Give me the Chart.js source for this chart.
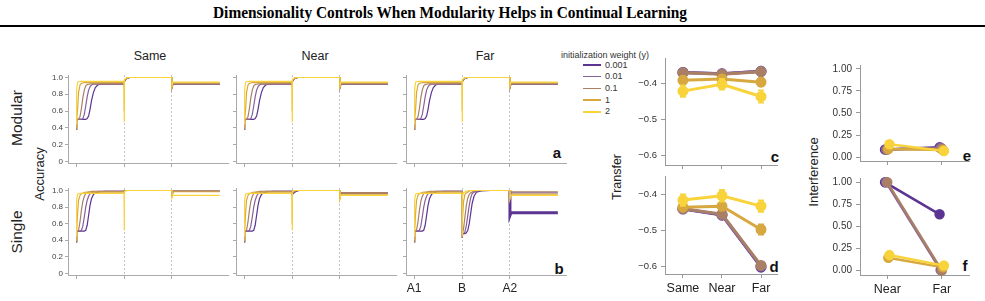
<!DOCTYPE html>
<html>
<head>
<meta charset="utf-8">
<script src="https://cdn.jsdelivr.net/npm/chart.js@4.4.1/dist/chart.umd.min.js"></script>
<style>
  body { margin: 0; width: 985px; height: 301px; background: #fff; position: relative; overflow: hidden; font-family: "Liberation Sans", Arial, sans-serif; }
  canvas { position: absolute; }
  .txt { position: absolute; white-space: nowrap; color: #222; line-height: 1; }
  .ctr { transform: translate(-50%, -50%); }
  .rot { transform: translate(-50%, -50%) rotate(-90deg); }
  #title { left: 450px; top: 5px; font-family: "Liberation Serif", "Times New Roman", serif; font-weight: bold; font-size: 16px; color: #000; transform: translateX(-50%); }
  #rule { position: absolute; left: 0; top: 25px; width: 985px; height: 2px; background: #000; }
  .letter { font-weight: bold; font-size: 15px; color: #111; }
  .leg { font-size: 9px; color: #333; }
  .legline { position: absolute; height: 1.5px; width: 18px; }
</style>
</head>
<body>
<div class="txt" id="title">Dimensionality Controls When Modularity Helps in Continual Learning</div>
<div id="rule"></div>

<div class="txt ctr" style="left:150px;top:56px;font-size:12.5px">Same</div>
<div class="txt ctr" style="left:315px;top:56px;font-size:12.5px">Near</div>
<div class="txt ctr" style="left:485px;top:56px;font-size:12.5px">Far</div>
<div class="txt rot" style="left:17px;top:118px;font-size:15.5px">Modular</div>
<div class="txt rot" style="left:17px;top:232px;font-size:15.5px">Single</div>
<div class="txt rot" style="left:39px;top:174px;font-size:13px">Accuracy</div>
<div class="txt rot" style="left:617px;top:177px;font-size:12.5px">Transfer</div>
<div class="txt rot" style="left:813px;top:172px;font-size:13px">Interference</div>

<div class="txt ctr letter" style="left:557px;top:152px">a</div>
<div class="txt ctr letter" style="left:559px;top:268px">b</div>
<div class="txt ctr letter" style="left:775px;top:156px">c</div>
<div class="txt ctr letter" style="left:774px;top:266px">d</div>
<div class="txt ctr letter" style="left:967px;top:155px">e</div>
<div class="txt ctr letter" style="left:965px;top:265px">f</div>

<div id="legend"></div>

<script>
// init weights (y) and their colours
const initWeights = ['0.001', '0.01', '0.1', '1', '2'];
const seriesColors = ['#5c3593', '#86609b', '#a97f66', '#d7a83f', '#f9d33b'];

// training progress (phase A1 -> B -> A2)
const phaseNames = ['A1', 'B', 'A2'];
const tasks = ['Same', 'Near', 'Far'];
const a1Steps = [0, 0.01, 0.03, 0.05, 0.08, 0.11, 0.14, 0.17, 0.20, 0.23, 0.26, 0.29, 0.32, 0.36, 0.40, 0.45, 0.50, 0.60, 0.80, 1.00];
const bSteps = [1.00, 1.01, 1.03, 1.06, 1.09, 1.12, 1.15, 1.18, 1.21, 1.25, 1.30, 1.40, 1.60, 2.00];
const a2Steps = [2.00, 2.02, 2.10, 3.00];

// modular network: same curves in the three columns
const modularA1 = [
  [0.38, 0.49, 0.50, 0.50, 0.50, 0.50, 0.50, 0.50, 0.50, 0.51, 0.54, 0.62, 0.72, 0.82, 0.88, 0.91, 0.92, 0.92, 0.92, 0.92],
  [0.38, 0.49, 0.50, 0.50, 0.50, 0.50, 0.51, 0.56, 0.66, 0.77, 0.85, 0.89, 0.91, 0.92, 0.92, 0.92, 0.92, 0.92, 0.92, 0.92],
  [0.38, 0.49, 0.50, 0.50, 0.53, 0.63, 0.76, 0.85, 0.90, 0.915, 0.92, 0.925, 0.925, 0.925, 0.925, 0.925, 0.925, 0.925, 0.925, 0.925],
  [0.40, 0.50, 0.62, 0.82, 0.91, 0.93, 0.935, 0.94, 0.94, 0.94, 0.94, 0.94, 0.94, 0.94, 0.94, 0.94, 0.94, 0.94, 0.94, 0.94],
  [0.45, 0.85, 0.945, 0.95, 0.955, 0.955, 0.955, 0.955, 0.955, 0.955, 0.955, 0.955, 0.955, 0.955, 0.955, 0.955, 0.955, 0.955, 0.955, 0.955]
];
const modularB = [
  [0.92, 0.95, 0.975, 0.99, 0.995, 1, 1, 1, 1, 1, 1, 1, 1, 1],
  [0.92, 0.95, 0.975, 0.99, 0.995, 1, 1, 1, 1, 1, 1, 1, 1, 1],
  [0.925, 0.955, 0.98, 0.99, 0.995, 1, 1, 1, 1, 1, 1, 1, 1, 1],
  [0.60, 0.96, 0.985, 0.995, 1, 1, 1, 1, 1, 1, 1, 1, 1, 1],
  [0.47, 0.97, 0.99, 0.995, 1, 1, 1, 1, 1, 1, 1, 1, 1, 1]
];
const modularA2 = [
  [0.88, 0.92, 0.92, 0.92],
  [0.88, 0.92, 0.92, 0.92],
  [0.88, 0.925, 0.925, 0.925],
  [0.89, 0.935, 0.935, 0.935],
  [0.90, 0.945, 0.945, 0.945]
];

// single network
const singleA1 = [
  [0.38, 0.50, 0.51, 0.51, 0.51, 0.51, 0.51, 0.51, 0.52, 0.58, 0.70, 0.82, 0.90, 0.95, 0.97, 0.98, 0.985, 0.99, 0.99, 0.99],
  [0.38, 0.50, 0.51, 0.51, 0.51, 0.52, 0.57, 0.68, 0.80, 0.88, 0.93, 0.96, 0.97, 0.98, 0.985, 0.99, 0.99, 0.99, 0.99, 0.99],
  [0.38, 0.50, 0.51, 0.52, 0.62, 0.76, 0.87, 0.93, 0.96, 0.97, 0.98, 0.985, 0.99, 0.99, 0.99, 0.99, 0.99, 0.99, 0.99, 0.99],
  [0.40, 0.52, 0.72, 0.88, 0.94, 0.96, 0.97, 0.975, 0.98, 0.98, 0.98, 0.98, 0.98, 0.98, 0.98, 0.98, 0.98, 0.98, 0.98, 0.98],
  [0.45, 0.88, 0.955, 0.96, 0.965, 0.965, 0.965, 0.965, 0.965, 0.965, 0.965, 0.965, 0.965, 0.965, 0.965, 0.965, 0.965, 0.965, 0.965, 0.965]
];
const singleSameB = [
  [0.99, 1, 1, 1, 1, 1, 1, 1, 1, 1, 1, 1, 1, 1],
  [0.99, 1, 1, 1, 1, 1, 1, 1, 1, 1, 1, 1, 1, 1],
  [0.99, 1, 1, 1, 1, 1, 1, 1, 1, 1, 1, 1, 1, 1],
  [0.98, 0.995, 1, 1, 1, 1, 1, 1, 1, 1, 1, 1, 1, 1],
  [0.52, 0.98, 0.995, 1, 1, 1, 1, 1, 1, 1, 1, 1, 1, 1]
];
const singleSameA2 = [
  [0.93, 0.99, 0.99, 0.99],
  [0.93, 0.99, 0.99, 0.99],
  [0.93, 0.995, 0.995, 0.995],
  [0.92, 0.985, 0.985, 0.985],
  [0.91, 0.94, 0.94, 0.94]
];
const singleNearB = [
  [0.94, 0.95, 0.965, 0.98, 0.99, 0.995, 1, 1, 1, 1, 1, 1, 1, 1],
  [0.95, 0.96, 0.975, 0.99, 0.995, 1, 1, 1, 1, 1, 1, 1, 1, 1],
  [0.96, 0.97, 0.985, 0.995, 1, 1, 1, 1, 1, 1, 1, 1, 1, 1],
  [0.60, 0.97, 0.99, 1, 1, 1, 1, 1, 1, 1, 1, 1, 1, 1],
  [0.52, 0.98, 0.995, 1, 1, 1, 1, 1, 1, 1, 1, 1, 1, 1]
];
const singleNearA2 = [
  [0.90, 0.965, 0.965, 0.965],
  [0.90, 0.97, 0.97, 0.97],
  [0.90, 0.975, 0.975, 0.975],
  [0.90, 0.955, 0.955, 0.955],
  [0.90, 0.94, 0.94, 0.94]
];
const singleFarB = [
  [0.43, 0.47, 0.48, 0.48, 0.49, 0.52, 0.60, 0.72, 0.84, 0.93, 0.98, 0.995, 1, 1],
  [0.43, 0.47, 0.48, 0.50, 0.58, 0.70, 0.82, 0.91, 0.96, 0.98, 0.99, 1, 1, 1],
  [0.43, 0.48, 0.53, 0.68, 0.82, 0.91, 0.95, 0.97, 0.98, 0.99, 1, 1, 1, 1],
  [0.44, 0.62, 0.86, 0.95, 0.97, 0.98, 0.99, 1, 1, 1, 1, 1, 1, 1],
  [0.46, 0.92, 0.97, 0.98, 0.99, 0.995, 1, 1, 1, 1, 1, 1, 1, 1]
];
const singleFarA2 = [
  [0.70, 0.73, 0.73, 0.73],
  [0.90, 0.97, 0.97, 0.97],
  [0.90, 0.985, 0.985, 0.985],
  [0.90, 0.955, 0.955, 0.955],
  [0.90, 0.94, 0.94, 0.94]
];

// transfer (c: modular, d: single) over Same / Near / Far
const transferModular = [
  [-0.370, -0.374, -0.367],
  [-0.370, -0.374, -0.367],
  [-0.371, -0.375, -0.368],
  [-0.392, -0.388, -0.397],
  [-0.422, -0.403, -0.437]
];
const transferModularErr = [
  [0.003, 0.003, 0.003], [0.003, 0.003, 0.003], [0.004, 0.004, 0.004],
  [0.011, 0.009, 0.011], [0.016, 0.015, 0.017]
];
const transferSingle = [
  [-0.441, -0.458, -0.603],
  [-0.440, -0.457, -0.600],
  [-0.440, -0.455, -0.598],
  [-0.436, -0.433, -0.498],
  [-0.416, -0.404, -0.433]
];
const transferSingleErr = [
  [0.003, 0.003, 0.004], [0.003, 0.003, 0.004], [0.004, 0.004, 0.005],
  [0.009, 0.012, 0.014], [0.016, 0.016, 0.016]
];

// interference (e: modular, f: single) over Near / Far
const interfTasks = ['Near', 'Far'];
const interfModular = [
  [0.085, 0.11],
  [0.085, 0.105],
  [0.085, 0.095],
  [0.09, 0.08],
  [0.145, 0.068]
];
const interfSingle = [
  [1.0, 0.635],
  [1.0, 0.0],
  [1.0, -0.005],
  [0.14, 0.03],
  [0.17, 0.05]
];
const dodge = [-0.04, -0.02, 0, 0.02, 0.04];

Chart.defaults.font.family = '"Liberation Sans", Arial, sans-serif';
Chart.defaults.animation = false;

// legend (html)
const legend = document.getElementById('legend');
legend.innerHTML = '<div class="txt leg" style="left:561px;top:51px">initialization weight (y)</div>' +
  initWeights.map((w, i) => {
    const y = 65 + i * 11.7;
    return `<div class="legline" style="left:583px;top:${y - 0.75}px;background:${seriesColors[i]}"></div>` +
      `<div class="txt leg" style="left:605px;top:${y - 4.5}px">${w}</div>`;
  }).join('');

// error bar drawing for the transfer panels
const errorBars = {
  id: 'errorBars',
  afterDatasetDraw(chart, args) {
    const ds = chart.data.datasets[args.index];
    if (!ds.errors) return;
    const ys = chart.scales.y, ctx = chart.ctx;
    ctx.save();
    ctx.strokeStyle = ds.borderColor;
    ctx.lineWidth = 1.8;
    args.meta.data.forEach((pt, i) => {
      const v = ds.data[i].y, e = ds.errors[i];
      const t = ys.getPixelForValue(v + e), b = ys.getPixelForValue(v - e);
      ctx.beginPath();
      ctx.moveTo(pt.x, t); ctx.lineTo(pt.x, b);
      ctx.moveTo(pt.x - 3, t); ctx.lineTo(pt.x + 3, t);
      ctx.moveTo(pt.x - 3, b); ctx.lineTo(pt.x + 3, b);
      ctx.stroke();
    });
    ctx.restore();
  }
};

// place a chart so that its plot area sits on box
function makeChart(box, config) {
  const pad = { l: 44, t: 10, r: 14, b: 30 };
  const canvas = document.createElement('canvas');
  const w = box.width + pad.l + pad.r, h = box.height + pad.t + pad.b;
  canvas.width = w; canvas.height = h;
  canvas.style.left = (box.left - pad.l) + 'px';
  canvas.style.top = (box.top - pad.t) + 'px';
  canvas.style.width = w + 'px'; canvas.style.height = h + 'px';
  document.body.appendChild(canvas);
  config.options.responsive = false;
  config.options.maintainAspectRatio = false;
  config.options.layout = { padding: { top: pad.t, right: pad.r, left: 0, bottom: 0 } };
  config.options.plugins = { legend: { display: false }, tooltip: { enabled: false } };
  config.options.scales.x.afterFit = s => { s.height = pad.b; };
  config.options.scales.y.afterFit = s => { s.width = pad.l; };
  return new Chart(canvas, config);
}

function accuracyPanel(box, a1, b, a2, showY, showX, thickPurple) {
  const steps = a1Steps.concat(bSteps, a2Steps);
  const datasets = initWeights.map((w, i) => {
    const vals = a1[i].concat(b[i], a2[i]);
    return {
      label: w,
      data: steps.map((x, k) => ({ x: x, y: vals[k] })),
      borderColor: seriesColors[i],
      borderWidth: 1.2,
      pointRadius: 0,
      tension: 0,
      order: initWeights.length - i,
      segment: {
        borderWidth: ctx => (thickPurple && i === 0 && ctx.p0.parsed.x >= 2) ? 3 : undefined
      }
    };
  });
  return makeChart(box, {
    type: 'line',
    data: { datasets },
    options: {
      scales: {
        x: {
          type: 'linear', min: -0.17, max: 3.17,
          afterBuildTicks: s => { s.ticks = [0, 1, 2].map(v => ({ value: v })); },
          ticks: { callback: (v, i) => showX ? phaseNames[i] : '', color: '#222', font: { size: 12 }, padding: 2, maxRotation: 0, autoSkip: false },
          grid: { drawOnChartArea: true, color: c => (c.tick && c.tick.value > 0) ? '#c4c4c4' : 'rgba(0,0,0,0)', tickColor: '#aaa', tickLength: 4 },
          border: { color: '#aaa', dash: [2, 2] }
        },
        y: {
          min: -0.02, max: 1.03,
          afterBuildTicks: s => { s.ticks = [0, 0.2, 0.4, 0.6, 0.8, 1.0].map(v => ({ value: v })); },
          ticks: { callback: v => showY ? (v === 0 ? '0' : v.toFixed(1)) : '', color: '#444', font: { size: 8 }, padding: 2 },
          grid: { drawOnChartArea: false, color: '#aaa', tickLength: 3 },
          border: { color: '#aaa' }
        }
      }
    }
  });
}

function pointPanel(box, cats, values, errors, yRange, yTicks, yFmt, showX, xRange, shift, fontSize, lineW) {
  const datasets = initWeights.map((w, i) => ({
    label: w,
    data: values[i].map((v, k) => ({ x: k + (shift ? dodge[i] : 0), y: v })),
    errors: errors ? errors[i] : null,
    borderColor: seriesColors[i],
    backgroundColor: seriesColors[i],
    pointBackgroundColor: seriesColors[i],
    pointBorderColor: seriesColors[i],
    borderWidth: lineW,
    pointRadius: 4,
    tension: 0,
    clip: false,
    order: initWeights.length - i
  }));
  return makeChart(box, {
    type: 'line',
    data: { datasets },
    plugins: [errorBars],
    options: {
      scales: {
        x: {
          type: 'linear', min: xRange[0], max: xRange[1],
          afterBuildTicks: s => { s.ticks = cats.map((c, k) => ({ value: k })); },
          ticks: { callback: (v, i) => showX ? cats[i] : '', color: '#222', font: { size: 12.5 }, padding: 3, maxRotation: 0, autoSkip: false },
          grid: { drawOnChartArea: false, color: '#999', tickLength: 4 },
          border: { color: '#999' }
        },
        y: {
          min: yRange[0], max: yRange[1],
          afterBuildTicks: s => { s.ticks = yTicks.map(v => ({ value: v })); },
          ticks: { callback: yFmt, color: '#333', font: { size: fontSize }, padding: 4 },
          grid: { drawOnChartArea: false, color: '#999', tickLength: 4 },
          border: { color: '#999' }
        }
      }
    }
  });
}

// accuracy panels (a: modular row, b: single row)
const colLeft = [68, 236, 406];
const topBox = { top: 75.2, width: 160, height: 88.2 };
const botBox = { top: 187.5, width: 160, height: 87.5 };
tasks.forEach((t, c) => {
  accuracyPanel(Object.assign({ left: colLeft[c] }, topBox), modularA1, modularB, modularA2, c === 0, false, false);
});
accuracyPanel(Object.assign({ left: colLeft[0] }, botBox), singleA1, singleSameB, singleSameA2, true, false, false);
accuracyPanel(Object.assign({ left: colLeft[1] }, botBox), singleA1, singleNearB, singleNearA2, false, false, false);
accuracyPanel(Object.assign({ left: colLeft[2] }, botBox), singleA1, singleFarB, singleFarA2, false, true, true);

// transfer panels
const fmtTransfer = v => '\u2212' + Math.abs(v).toFixed(1);
pointPanel({ left: 665, top: 58, width: 112, height: 107 }, tasks, transferModular, transferModularErr,
  [-0.627, -0.33], [-0.6, -0.5, -0.4], fmtTransfer, false, [-0.46, 2.41], false, 9.5, 3);
pointPanel({ left: 665, top: 176, width: 112, height: 98.3 }, tasks, transferSingle, transferSingleErr,
  [-0.622, -0.349], [-0.6, -0.5, -0.4], fmtTransfer, true, [-0.46, 2.41], false, 9.5, 3);

// interference panels
const fmtInterf = v => v.toFixed(2);
pointPanel({ left: 860, top: 65, width: 109, height: 96 }, interfTasks, interfModular, null,
  [-0.045, 1.045], [0, 0.25, 0.5, 0.75, 1.0], fmtInterf, false, [-0.5, 1.5], true, 10, 2.5);
pointPanel({ left: 860, top: 178, width: 109, height: 97 }, interfTasks, interfSingle, null,
  [-0.057, 1.049], [0, 0.25, 0.5, 0.75, 1.0], fmtInterf, true, [-0.5, 1.5], true, 10, 2.5);

// fit the title to the reference width
const title = document.getElementById('title');
const tw = title.getBoundingClientRect().width;
title.style.transform = `translateX(-50%) scaleX(${474 / tw})`;
</script>
</body>
</html>
